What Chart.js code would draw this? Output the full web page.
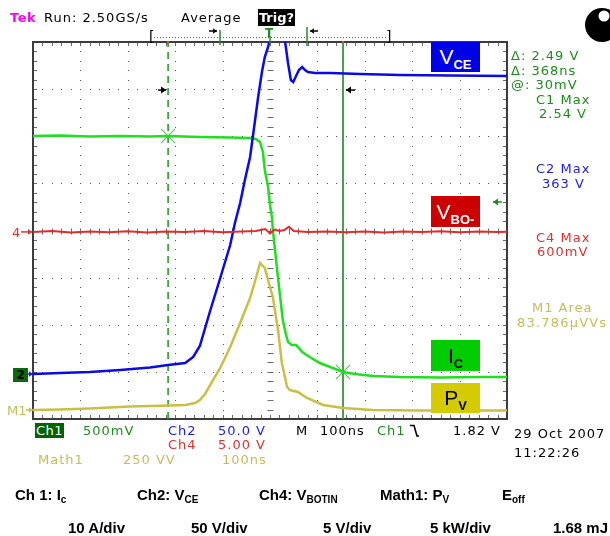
<!DOCTYPE html>
<html><head><meta charset="utf-8">
<script src="https://cdn.jsdelivr.net/npm/chart.js@4.4.1/dist/chart.umd.min.js"></script>
<style>
html,body{margin:0;padding:0;background:#fff;}
#wrap{position:relative;width:610px;height:536px;overflow:hidden;}
#c{position:absolute;left:0;top:0;}
.t{position:absolute;font-family:"DejaVu Sans",sans-serif;font-size:13px;line-height:13px;letter-spacing:1px;white-space:nowrap;}
.b{position:absolute;font-family:"Liberation Sans",Arial,sans-serif;font-weight:bold;font-size:15px;line-height:15px;white-space:nowrap;color:#000;}
.b sub{font-size:10px;vertical-align:-3px;line-height:0;}
.box{position:absolute;width:49px;height:30px;text-align:center;font-family:"Liberation Sans",Arial,sans-serif;font-size:21px;line-height:30px;white-space:nowrap;}
.box sub{font-size:13px;vertical-align:-5px;font-weight:bold;line-height:0;}
.g{color:#1c8c1c}.bl{color:#1a1af0}.r{color:#e03030}.y{color:#c4bd5a}.k{color:#000}
</style></head>
<body><div id="wrap">
<canvas id="c" width="610" height="536"></canvas>

<!-- top status line -->
<div class="t" style="left:10px;top:11px;color:#ff00ff;font-weight:bold;letter-spacing:0.5px">Tek</div>
<div class="t k" style="left:44px;top:11px">Run: 2.50GS/s</div>
<div class="t k" style="left:181px;top:11px">Average</div>
<div class="t" style="left:258px;top:9px;width:37px;height:17px;line-height:17px;background:#000;color:#fff;font-weight:bold;letter-spacing:0;text-align:center">Trig?</div>
<div class="t k" style="left:149px;top:30px;font-size:14px">[</div>
<div class="t k" style="left:386px;top:30px;font-size:14px">]</div>
<div class="t g" style="left:265px;top:27px;font-weight:bold;font-size:12px">T</div>

<!-- right readouts -->
<div class="t g" style="left:511px;top:49px">Δ: 2.49 V</div>
<div class="t g" style="left:511px;top:64px">Δ: 368ns</div>
<div class="t g" style="left:511px;top:78px">@: 30mV</div>
<div class="t g" style="left:536px;top:93px">C1 Max</div>
<div class="t g" style="left:539px;top:107px">2.54 V</div>
<div class="t bl" style="left:536px;top:162px">C2 Max</div>
<div class="t bl" style="left:542px;top:177px">363 V</div>
<div class="t r" style="left:536px;top:231px">C4 Max</div>
<div class="t r" style="left:537px;top:245px">600mV</div>
<div class="t y" style="left:532px;top:301px">M1 Area</div>
<div class="t y" style="left:517px;top:316px;letter-spacing:1.2px">83.786μVVs</div>

<!-- left channel markers -->
<div class="t r" style="left:12px;top:226px;letter-spacing:0">4</div>
<div class="t" style="left:13px;top:368px;width:15px;height:14px;line-height:14px;background:#0a6a0a;color:#000;font-weight:bold;text-align:center;letter-spacing:0">2</div>
<div class="t y" style="left:7px;top:404px;letter-spacing:0">M1</div>

<!-- in-plot labels -->
<div class="box" style="left:431px;top:42px;background:#0000e6;color:#fff">V<sub>CE</sub></div>
<div class="box" style="left:431px;top:196px;height:31px;line-height:31px;background:#cc0000;color:#fff">V<sub>BO-</sub></div>
<div class="box" style="left:431px;top:340px;height:31px;line-height:31px;background:#00cc00;color:#000">I<sub>C</sub></div>
<div class="box" style="left:431px;top:383px;background:#d4cc00;color:#000">P<sub>V</sub></div>

<!-- bottom readouts -->
<div class="t" style="left:35px;top:423px;width:29px;height:15px;line-height:15px;background:#006400;color:#fff;text-align:center;letter-spacing:0.5px">Ch1</div>
<div class="t g" style="left:83px;top:424px">500mV</div>
<div class="t bl" style="left:168px;top:424px">Ch2</div>
<div class="t bl" style="left:218px;top:424px">50.0 V</div>
<div class="t k" style="left:296px;top:424px">M</div>
<div class="t k" style="left:320px;top:424px">100ns</div>
<div class="t g" style="left:377px;top:424px">Ch1</div>
<svg style="position:absolute;left:410px;top:424px" width="10" height="14"><path d="M0,1.5 H4 L7,12 H9" fill="none" stroke="#000" stroke-width="1.6"/></svg>
<div class="t k" style="left:453px;top:424px">1.82 V</div>
<div class="t r" style="left:168px;top:438px">Ch4</div>
<div class="t r" style="left:218px;top:438px">5.00 V</div>
<div class="t y" style="left:38px;top:453px">Math1</div>
<div class="t y" style="left:123px;top:453px">250 VV</div>
<div class="t y" style="left:222px;top:453px">100ns</div>
<div class="t k" style="left:514px;top:427px">29 Oct 2007</div>
<div class="t k" style="left:514px;top:446px">11:22:26</div>

<!-- bold legend -->
<div class="b" style="left:15px;top:487px">Ch 1: I<sub>c</sub></div>
<div class="b" style="left:137px;top:487px">Ch2: V<sub>CE</sub></div>
<div class="b" style="left:259px;top:487px">Ch4: V<sub>BOTIN</sub></div>
<div class="b" style="left:380px;top:487px">Math1: P<sub>V</sub></div>
<div class="b" style="left:502px;top:487px">E<sub>off</sub></div>
<div class="b" style="left:68px;top:520px">10 A/div</div>
<div class="b" style="left:191px;top:520px">50 V/div</div>
<div class="b" style="left:323px;top:520px">5 V/div</div>
<div class="b" style="left:430px;top:520px">5 kW/div</div>
<div class="b" style="left:553px;top:520px">1.68 mJ</div>
</div>

<script>
// time axis in ns (100 ns/div, trigger at centre); amplitudes in screen divisions
const icTimeNs  = [-500,-443,-380,-316,-253,-215,-148,-84,-42,-30,-21,-15,-11,-4,0,4,6,11,15,21,27,34,38,46,55,61,68,84,105,127,154,179,217,274,359,443,500];
const icDiv     = [2.005,2.016,1.995,2.005,1.995,2.005,1.984,1.973,1.963,1.942,1.878,1.666,1.284,0.923,0.541,0.286,0.011,-0.456,-0.838,-1.369,-1.899,-2.218,-2.366,-2.430,-2.430,-2.493,-2.578,-2.684,-2.812,-2.897,-3.003,-3.045,-3.087,-3.109,-3.119,-3.109,-3.109];

const vceTimeNs = [-500,-443,-380,-316,-253,-215,-179,-162,-148,-127,-105,-84,-74,-63,-53,-42,-32,-25,-17,-11,-4,4,21,32,38,44,49,55,61,68,74,80,95,127,190,274,380,500];
const vceDiv    = [-3.045,-3.024,-3.003,-2.960,-2.907,-2.854,-2.812,-2.684,-2.451,-1.729,-1.008,-0.308,0.159,0.584,1.072,1.560,2.302,2.833,3.363,3.682,3.894,4.255,4.361,4.000,3.554,3.194,3.151,3.278,3.406,3.469,3.406,3.363,3.342,3.342,3.321,3.300,3.289,3.278];

const vboTimeNs = [-500,-460,-420,-380,-340,-300,-260,-220,-180,-140,-100,-60,-30,-10,0,10,20,30,40,50,80,120,160,200,240,280,320,360,400,440,480,500];
const vboDiv    = [-0.03,-0.01,-0.04,-0.02,-0.035,-0.015,-0.04,-0.02,-0.03,-0.01,-0.035,-0.02,-0.01,0.03,-0.06,0.02,-0.01,0.01,0.08,-0.01,-0.03,-0.02,-0.035,-0.02,-0.04,-0.02,-0.03,-0.015,-0.035,-0.02,-0.03,-0.025];

const pvTimeNs  = [-500,-443,-380,-359,-295,-253,-211,-179,-158,-148,-137,-120,-105,-84,-63,-42,-32,-21,-11,-4,0,6,17,25,32,36,42,59,78,112,154,217,316,500];
const pvDiv     = [-3.809,-3.798,-3.777,-3.767,-3.735,-3.724,-3.714,-3.703,-3.660,-3.597,-3.469,-3.172,-2.918,-2.472,-1.963,-1.432,-1.093,-0.690,-0.796,-1.050,-1.199,-1.411,-2.111,-2.812,-3.130,-3.321,-3.385,-3.427,-3.554,-3.703,-3.767,-3.809,-3.820,-3.820];

const cursorTimesNs  = [-215, 154];
const cursorLevelsDiv = [2.005, -3.003];
const cursorArrowDiv = 2.98;
const triggerLevelDiv = 0.605;
const groundLevelsDiv = {ch4: -0.03, ch2: -3.045, m1: -3.809};

const toXY = (t, v) => t.map((x, i) => ({x, y: v[i]}));
const trace = (t, v, color, w) => ({type:'line', data: toXY(t, v), borderColor: color, borderWidth: w, pointRadius: 0, tension: 0, fill: false});

function arrow(ctx, x1, y, x2, color, head) {
  ctx.strokeStyle = color; ctx.fillStyle = color; ctx.lineWidth = 1.5;
  ctx.beginPath(); ctx.moveTo(x1, y); ctx.lineTo(x2, y); ctx.stroke();
  const d = x2 > x1 ? -1 : 1;
  ctx.beginPath(); ctx.moveTo(x2, y); ctx.lineTo(x2 + d*head, y - head*0.7); ctx.lineTo(x2 + d*head, y + head*0.7); ctx.closePath(); ctx.fill();
}

const tekPlugin = {
  id: 'tek',
  beforeDatasetsDraw(chart) {
    const {ctx, chartArea: a, scales: {x, y}} = chart;
    ctx.save();
    // dotted graticule: a dot at every minor division along each major line
    ctx.fillStyle = '#555';
    for (let j = 1; j < 8; j++) {
      const py = Math.round(y.getPixelForValue(-4 + j));
      for (let i = 0; i <= 50; i++) ctx.fillRect(Math.round(x.getPixelForValue(-500 + i*20)), py, 1, 1);
    }
    for (let j = 1; j < 10; j++) {
      const px = Math.round(x.getPixelForValue(-500 + j*100));
      for (let i = 0; i <= 40; i++) ctx.fillRect(px, Math.round(y.getPixelForValue(-4 + i*0.2)), 1, 1);
    }
    ctx.strokeStyle = '#6a6a6a'; ctx.lineWidth = 1;
    ctx.beginPath();
    const cx = Math.round(x.getPixelForValue(0)) + 0.5, cy = Math.round(y.getPixelForValue(0)) + 0.5;
    for (let i = 0; i <= 50; i++) {
      const px = Math.round(x.getPixelForValue(-500 + i*20)) + 0.5;
      ctx.moveTo(px, a.top); ctx.lineTo(px, a.top + 4);
      ctx.moveTo(px, a.bottom - 4); ctx.lineTo(px, a.bottom);
      ctx.moveTo(px, cy - 3); ctx.lineTo(px, cy + 3);
    }
    for (let i = 0; i <= 40; i++) {
      const py = Math.round(y.getPixelForValue(-4 + i*0.2)) + 0.5;
      ctx.moveTo(a.left, py); ctx.lineTo(a.left + 4, py);
      ctx.moveTo(a.right - 4, py); ctx.lineTo(a.right, py);
      ctx.moveTo(cx - 3, py); ctx.lineTo(cx + 3, py);
    }
    ctx.stroke();
    ctx.strokeStyle = '#3c3c3c'; ctx.lineWidth = 2;
    ctx.strokeRect(a.left, a.top, a.width, a.height);
    ctx.restore();
  },
  afterDatasetsDraw(chart) {
    const {ctx, chartArea: a, scales: {x, y}} = chart;
    ctx.save();
    const c1 = x.getPixelForValue(cursorTimesNs[0]), c2 = x.getPixelForValue(cursorTimesNs[1]);
    const ay = y.getPixelForValue(cursorArrowDiv);
    arrow(ctx, c1 - 10, ay, c1 - 2, '#000', 5);
    arrow(ctx, c2 + 12, ay, c2 + 3, '#000', 5);
    ctx.fillStyle = '#e05020';
    ctx.fillRect(Math.round(c1) - 1, a.top - 1, 2, 3);
    ctx.fillRect(Math.round(c2) - 1, a.top - 1, 2, 3);
    arrow(ctx, a.right - 5, y.getPixelForValue(triggerLevelDiv), a.right - 14, '#1c8c1c', 5);
    arrow(ctx, 21, y.getPixelForValue(groundLevelsDiv.ch4), 32, '#e03030', 4);
    arrow(ctx, 26, y.getPixelForValue(groundLevelsDiv.ch2), 33, '#1a1af0', 4);
    arrow(ctx, 26, y.getPixelForValue(groundLevelsDiv.m1), 33, '#c4bd5a', 4);
    ctx.restore();
  },
  afterDraw(chart) {
    const {ctx} = chart;
    ctx.save();
    ctx.strokeStyle = '#2a8a2a'; ctx.lineWidth = 1; ctx.setLineDash([1, 2]);
    ctx.beginPath(); ctx.moveTo(154, 37.5); ctx.lineTo(388, 37.5); ctx.stroke();
    ctx.setLineDash([]); ctx.lineWidth = 1.5;
    ctx.beginPath(); ctx.moveTo(220, 30); ctx.lineTo(220, 45); ctx.moveTo(307, 27); ctx.lineTo(307, 46); ctx.moveTo(270, 36); ctx.lineTo(270, 44); ctx.stroke();
    arrow(ctx, 209, 31, 217, '#000', 4);
    arrow(ctx, 318, 31, 310, '#000', 4);
    ctx.fillStyle = '#000'; ctx.beginPath(); ctx.arc(602, 25, 17, 0, Math.PI*2); ctx.fill();
    ctx.fillStyle = '#fff'; ctx.beginPath(); ctx.arc(604, 16, 5.5, 0, Math.PI*2); ctx.fill();
    ctx.restore();
  }
};

new Chart(document.getElementById('c').getContext('2d'), {
  type: 'line',
  data: { datasets: [
    trace(vboTimeNs, vboDiv, '#e42a2a', 2),
    trace(pvTimeNs, pvDiv, '#c9c043', 2.5),
    trace(vceTimeNs, vceDiv, '#0a0ae6', 2.5),
    trace(icTimeNs, icDiv, '#1ee01e', 2.5),
    {type:'line', data: [{x: cursorTimesNs[0], y: -4}, {x: cursorTimesNs[0], y: 4}], borderColor: '#1a961a', borderWidth: 1.5, borderDash: [7, 5], pointRadius: 0},
    {type:'line', data: [{x: cursorTimesNs[1], y: -4}, {x: cursorTimesNs[1], y: 4}], borderColor: '#4a9f4a', borderWidth: 2, pointRadius: 0},
    {type:'scatter', data: toXY(cursorTimesNs, cursorLevelsDiv), pointStyle: 'crossRot', pointRadius: 10, borderColor: '#5fbf5f', borderWidth: 1.2, backgroundColor: 'transparent'}
  ]},
  options: {
    responsive: false, animation: false, devicePixelRatio: 1,
    layout: {padding: {left: 33, top: 42, right: 103, bottom: 117}},
    plugins: {legend: {display: false}, tooltip: {enabled: false}},
    scales: {
      x: {type: 'linear', min: -500, max: 500, ticks: {display: false, stepSize: 100},
          grid: {display: false, drawTicks: false}, border: {display: false}},
      y: {type: 'linear', min: -4, max: 4, ticks: {display: false, stepSize: 1},
          grid: {display: false, drawTicks: false}, border: {display: false}}
    }
  },
  plugins: [tekPlugin]
});
</script>
</body></html>
